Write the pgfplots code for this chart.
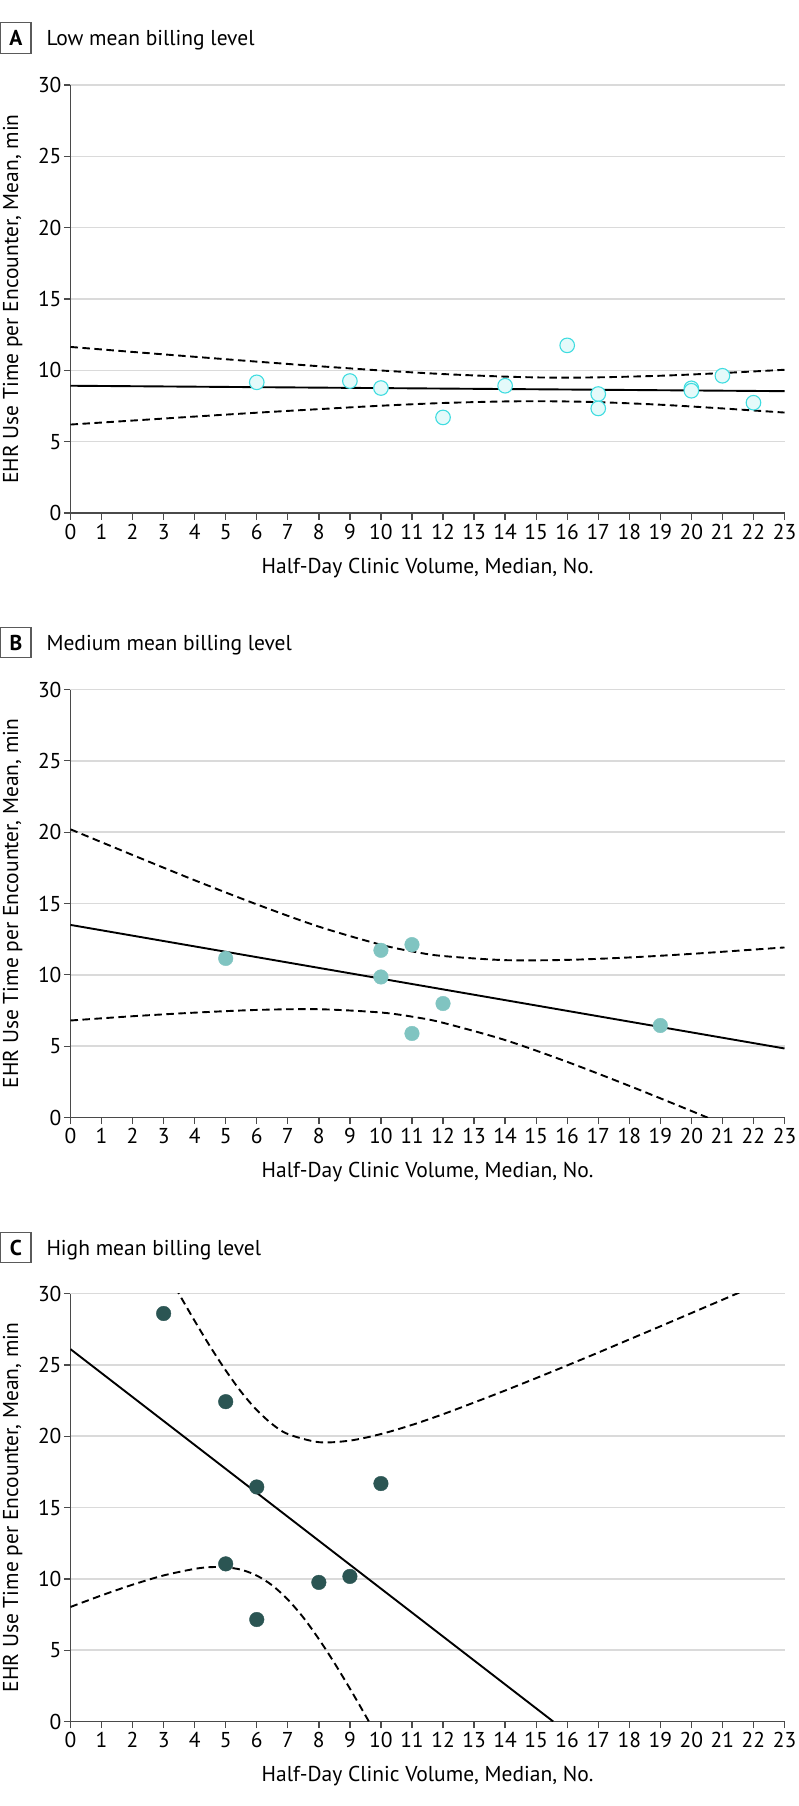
\documentclass[border=0pt]{standalone}
\usepackage{pgfplots}
\pgfplotsset{compat=1.18}
\usepackage{fontspec}
\setmainfont{PT Sans}
\definecolor{axiscol}{HTML}{4A4A4A}
\definecolor{gridcol}{HTML}{DADADA}
\definecolor{boxcol}{HTML}{5A5A5A}
\definecolor{cyanedge}{HTML}{3FDCE0}
\definecolor{cyanfill}{HTML}{E4FAFA}
\definecolor{tealB}{HTML}{80C4C1}
\definecolor{tealC}{HTML}{2B5553}
\newcommand{\fs}{\fontsize{21.5}{25}\selectfont}
\pgfplotsset{
  panel/.style={
    anchor=south west, scale only axis, width=714pt, height=428pt,
    xmin=0, xmax=23, ymin=0, ymax=30,
    xtick={0,...,23}, ytick={0,5,...,30},
    axis lines=left, axis line style={-, draw=axiscol, line width=1.3pt},
    tick align=outside, major tick length=6.5pt,
    tick style={draw=axiscol, line width=1.3pt},
    ymajorgrids, grid style={draw=gridcol, line width=1.6pt},
    /pgf/number format/assume math mode=true,
    tick label style={font=\fs, text=black},
    xticklabel style={anchor=north, yshift=-1pt},
    yticklabel style={anchor=east, xshift=1pt},
    label style={font=\fs, text=black},
    xlabel={Half-Day Clinic Volume, Median, No.},
    ylabel={EHR Use Time per Encounter, Mean, min},
    xlabel style={at={(axis description cs:0.5,-0.1285)}, anchor=center},
    ylabel style={at={(axis description cs:-0.081,0.5)}, anchor=center},
    clip=true,
  },
  fitline/.style={black, line width=1.9pt, no marks},
  ciline/.style={black, line width=1.9pt, no marks, smooth, dash pattern=on 7.5pt off 4.5pt},
}
\begin{document}
\begin{tikzpicture}
\useasboundingbox (0pt,0pt) rectangle (798pt,-1806pt);
% ---------- Panel A ----------
\draw[boxcol, line width=1.3pt] (0.75pt,-22.7pt) rectangle (31pt,-53.3pt);
\node[font=\fs\bfseries] at (15.9pt,-38.3pt) {A};
\node[font=\fs, anchor=base west] at (43pt,-46pt) {Low mean billing level};
\begin{axis}[panel, at={(70.5pt,-513pt)}]
\addplot[ciline] coordinates {(0,11.64) (2,11.29) (4,10.95) (6,10.61) (8,10.29) (10,9.99) (12,9.74) (14,9.56) (15.5,9.49) (17,9.51) (19,9.62) (21,9.81) (23,10.04)};
\addplot[ciline] coordinates {(0,6.20) (2,6.48) (4,6.76) (6,7.03) (8,7.28) (10,7.52) (12,7.71) (14,7.82) (15.5,7.83) (17,7.77) (19,7.59) (21,7.33) (23,7.04)};
\addplot[fitline] coordinates {(0,8.92) (23,8.54)};
\addplot[only marks, mark=*, mark size=7.3pt, mark options={draw=cyanedge, fill=cyanfill, line width=1.1pt}] coordinates {
(6,9.16) (9,9.25) (10,8.76) (12,6.70) (14,8.92) (16,11.75) (17,8.34) (17,7.33) (20,8.74) (20,8.57) (21,9.62) (22,7.73)};
\end{axis}
% ---------- Panel B ----------
\draw[boxcol, line width=1.3pt] (0.75pt,-627.3pt) rectangle (31pt,-657.8pt);
\node[font=\fs\bfseries] at (15.9pt,-642.8pt) {B};
\node[font=\fs, anchor=base west] at (43pt,-650.5pt) {Medium mean billing level};
\begin{axis}[panel, at={(70.5pt,-1117.5pt)}]
\addplot[ciline] coordinates {(0,20.20) (2,18.40) (4,16.63) (6,14.94) (8,13.38) (10,12.11) (11.14,11.59) (12,11.32) (14,11.03) (16,11.05) (18,11.22) (20,11.47) (22,11.77) (23,11.92)};
\addplot[ciline] coordinates {(0,6.80) (2,7.10) (4,7.35) (6,7.54) (8,7.59) (10,7.36) (11.14,7.02) (12,6.64) (14,5.43) (16,3.90) (18,2.22) (20,0.46) (22,-1.34) (23,-2.25)};
\addplot[fitline] coordinates {(0,13.50) (23,4.84)};
\addplot[only marks, mark=*, mark size=7.3pt, mark options={draw=tealB, fill=tealB}] coordinates {
(5,11.15) (10,11.72) (10,9.85) (11,12.12) (11,5.89) (12,7.99) (19,6.45)};
\end{axis}
% ---------- Panel C ----------
\draw[boxcol, line width=1.3pt] (0.75pt,-1232.2pt) rectangle (31pt,-1262.5pt);
\node[font=\fs\bfseries] at (15.9pt,-1247.5pt) {C};
\node[font=\fs, anchor=base west] at (43pt,-1255pt) {High mean billing level};
\begin{axis}[panel, at={(70.5pt,-1721.5pt)}]
\addplot[ciline] coordinates {(3,31.90) (3.5,29.96) (4,28.08) (4.5,26.28) (5,24.61) (5.5,23.10) (6,21.83) (6.5,20.84) (7,20.15) (8,19.58) (9,19.69) (10,20.15) (11,20.79) (12,21.54) (13,22.36) (14,23.20) (15,24.07) (16,24.96) (17,25.86) (18,26.78) (19,27.70) (20,28.63) (21,29.56) (22,30.49)};
\addplot[ciline] coordinates {(0,8.03) (1,8.84) (2,9.59) (3,10.24) (4,10.70) (4.5,10.82) (5,10.81) (5.5,10.64) (6,10.23) (6.5,9.54) (7,8.55) (7.5,7.29) (8,5.78) (8.5,4.11) (9,2.31) (9.5,0.43) (10,-1.51)};
\addplot[fitline] coordinates {(0,26.10) (15.55,0)};
\addplot[only marks, mark=*, mark size=7.3pt, mark options={draw=tealC, fill=tealC}] coordinates {
(3,28.60) (5,22.42) (6,16.44) (10,16.68) (5,11.05) (9,10.17) (8,9.75) (6,7.15)};
\end{axis}
\end{tikzpicture}
\end{document}
